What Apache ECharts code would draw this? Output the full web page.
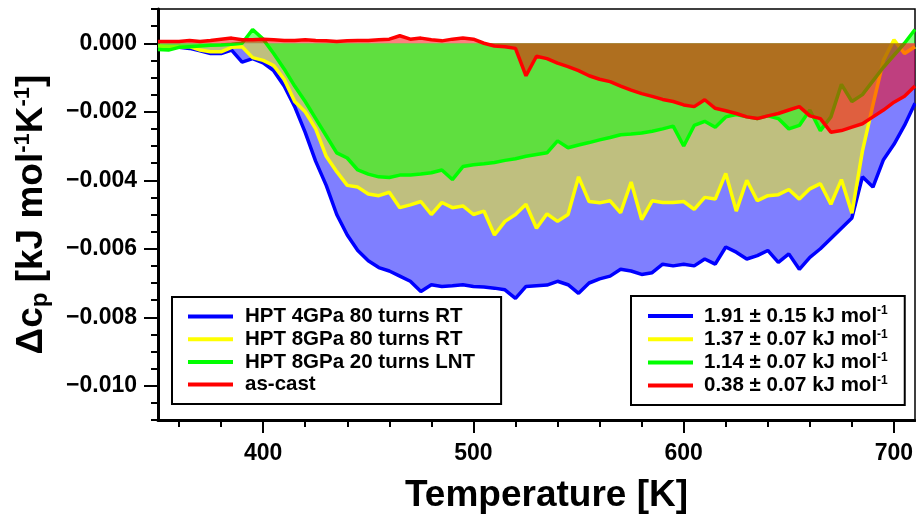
<!DOCTYPE html>
<html>
<head>
<meta charset="utf-8">
<script src="https://cdn.jsdelivr.net/npm/echarts@6/dist/echarts.min.js"></script>
<style>html,body{margin:0;padding:0;background:#fff}#chart{width:916px;height:515px}</style>
</head>
<body>
<div id="chart"></div>
<script>
// Temperature grid [K]
const temperatures = [350,355,360,365,370,375,380,385,390,395,400,405,410,415,420,425,430,435,440,445,450,455,460,465,470,475,480,485,490,495,500,505,510,515,520,525,530,535,540,545,550,555,560,565,570,575,580,585,590,595,600,605,610,615,620,625,630,635,640,645,650,655,660,665,670,675,680,685,690,695,700,705,710];

// Δcp [kJ mol-1 K-1]
const hpt4GPa80RT = [-0.00010,-0.00012,-0.00012,-0.00015,-0.00022,-0.00030,-0.00030,-0.00020,-0.00055,-0.00045,-0.00057,-0.00080,-0.00125,-0.00185,-0.00260,-0.00345,-0.00415,-0.00500,-0.00560,-0.00605,-0.00635,-0.00655,-0.00665,-0.00680,-0.00695,-0.00725,-0.00705,-0.00710,-0.00708,-0.00705,-0.00710,-0.00712,-0.00715,-0.00720,-0.00745,-0.00710,-0.00708,-0.00706,-0.00695,-0.00705,-0.00730,-0.00700,-0.00688,-0.00680,-0.00660,-0.00665,-0.00675,-0.00670,-0.00645,-0.00650,-0.00645,-0.00650,-0.00630,-0.00645,-0.00595,-0.00610,-0.00630,-0.00620,-0.00605,-0.00640,-0.00615,-0.00660,-0.00625,-0.00600,-0.00570,-0.00540,-0.00510,-0.00390,-0.00420,-0.00340,-0.00295,-0.00240,-0.00175];

const hpt8GPa80RT = [-0.00008,-0.00010,-0.00010,-0.00010,-0.00020,-0.00025,-0.00025,-0.00012,-0.00010,-0.00042,-0.00050,-0.00065,-0.00105,-0.00170,-0.00200,-0.00250,-0.00330,-0.00375,-0.00415,-0.00420,-0.00440,-0.00445,-0.00435,-0.00480,-0.00472,-0.00462,-0.00500,-0.00465,-0.00480,-0.00475,-0.00500,-0.00490,-0.00560,-0.00520,-0.00500,-0.00470,-0.00540,-0.00498,-0.00520,-0.00500,-0.00390,-0.00462,-0.00466,-0.00460,-0.00495,-0.00405,-0.00515,-0.00460,-0.00465,-0.00465,-0.00462,-0.00485,-0.00450,-0.00455,-0.00380,-0.00490,-0.00400,-0.00460,-0.00445,-0.00442,-0.00427,-0.00455,-0.00425,-0.00410,-0.00470,-0.00398,-0.00496,-0.00315,-0.00180,-0.00050,0.00010,-0.00030,-0.00010];

const hpt8GPa20LNT = [-0.00018,-0.00020,-0.00012,-0.00010,-0.00008,-0.00006,-0.00005,-0.00003,0.00000,0.00040,0.00012,-0.00030,-0.00075,-0.00125,-0.00170,-0.00220,-0.00270,-0.00320,-0.00335,-0.00370,-0.00382,-0.00390,-0.00392,-0.00385,-0.00385,-0.00382,-0.00378,-0.00370,-0.00398,-0.00360,-0.00355,-0.00352,-0.00348,-0.00342,-0.00337,-0.00330,-0.00325,-0.00320,-0.00285,-0.00305,-0.00297,-0.00290,-0.00282,-0.00275,-0.00267,-0.00265,-0.00262,-0.00257,-0.00250,-0.00242,-0.00300,-0.00240,-0.00228,-0.00245,-0.00215,-0.00208,-0.00215,-0.00220,-0.00212,-0.00220,-0.00250,-0.00240,-0.00195,-0.00255,-0.00215,-0.00120,-0.00170,-0.00150,-0.00110,-0.00070,-0.00035,0.00000,0.00040];

const asCast = [0.00005,0.00005,0.00005,0.00008,0.00005,0.00008,0.00012,0.00015,0.00010,0.00010,0.00012,0.00010,0.00008,0.00008,0.00010,0.00008,0.00007,0.00005,0.00007,0.00008,0.00008,0.00010,0.00012,0.00022,0.00012,0.00015,0.00010,0.00007,0.00012,0.00015,0.00012,0.00000,-0.00008,-0.00010,-0.00015,-0.00095,-0.00038,-0.00045,-0.00058,-0.00068,-0.00080,-0.00095,-0.00105,-0.00112,-0.00125,-0.00137,-0.00147,-0.00155,-0.00164,-0.00170,-0.00180,-0.00185,-0.00165,-0.00190,-0.00197,-0.00205,-0.00215,-0.00220,-0.00212,-0.00205,-0.00195,-0.00185,-0.00212,-0.00220,-0.00260,-0.00255,-0.00245,-0.00235,-0.00215,-0.00195,-0.00172,-0.00155,-0.00125];

const seriesNames = ['HPT 4GPa 80 turns RT','HPT 8GPa 80 turns RT','HPT 8GPa 20 turns LNT','as-cast'];
const enthalpyLabels = ['1.91 ± 0.15 kJ mol-1','1.37 ± 0.07 kJ mol-1','1.14 ± 0.07 kJ mol-1','0.38 ± 0.07 kJ mol-1'];
const seriesColors = ['#0000ff','#ffff00','#00ff00','#ff0000'];

const xMinorTicks = [360,380,400,420,440,460,480,500,520,540,560,580,600,620,640,660,680,700];
const xMajorTicks = [400,500,600,700];
const yMinorTicks = [-0.0110,-0.0105,-0.0100,-0.0095,-0.0090,-0.0085,-0.0080,-0.0075,-0.0070,-0.0065,-0.0060,-0.0055,-0.0050,-0.0045,-0.0040,-0.0035,-0.0030,-0.0025,-0.0020,-0.0015,-0.0010,-0.0005,0,0.0005,0.0010];
const yMajorTicks = [-0.010,-0.008,-0.006,-0.004,-0.002,0];

const F = '"Liberation Sans", Arial, sans-serif';
const dataSets = [hpt4GPa80RT, hpt8GPa80RT, hpt8GPa20LNT, asCast];

const series = dataSets.map((vals, i) => ({
  type: 'line',
  name: seriesNames[i],
  xAxisIndex: 0, yAxisIndex: 0,
  data: temperatures.map((t, k) => [t, vals[k]]),
  showSymbol: false,
  symbol: 'none',
  itemStyle: {color: seriesColors[i]},
  lineStyle: {color: seriesColors[i], width: 3.5},
  areaStyle: {color: seriesColors[i], opacity: 0.5, origin: 0},
  z: 2 + i
}));
enthalpyLabels.forEach((n, i) => series.push({
  type: 'line', name: n, data: [], xAxisIndex: 0, yAxisIndex: 0,
  itemStyle: {color: seriesColors[i]}, lineStyle: {color: seriesColors[i]}
}));

const yFmt = v => Math.abs(v) < 1e-9 ? '0.000' : (v < 0 ? '\u2212' : '') + Math.abs(v).toFixed(3);
const tickStyle = {color: '#000', width: 2};
const bold = {fontFamily: F, fontWeight: 'bold', color: '#000'};

const legendCommon = {
  orient: 'vertical',
  icon: 'rect',
  itemWidth: 45,
  itemHeight: 4,
  itemGap: 1.7,
  borderColor: '#000',
  borderWidth: 2,
  backgroundColor: '#fff',
  selectedMode: false,
  inactiveColor: '#000'
};

const option = {
  animation: false,
  backgroundColor: '#fff',
  textStyle: {fontFamily: F},
  grid: {left: 158, right: 1, top: 9, bottom: 95, show: true, borderColor: '#000', borderWidth: 1.5,
         backgroundColor: 'transparent', outerBoundsMode: 'none', containLabel: false},
  xAxis: [
    {type: 'value', min: 350, max: 710, position: 'bottom',
     axisLine: {onZero: false, lineStyle: {color: '#000', width: 3}},
     axisTick: {customValues: xMinorTicks, length: 7, lineStyle: tickStyle},
     axisLabel: {show: false}, splitLine: {show: false}},
    {type: 'value', min: 350, max: 710, position: 'bottom',
     axisLine: {show: false, onZero: false},
     axisTick: {customValues: xMajorTicks, length: 13, lineStyle: tickStyle},
     axisLabel: Object.assign({customValues: xMajorTicks, fontSize: 23, margin: 22}, bold),
     splitLine: {show: false},
     name: 'Temperature [K]', nameLocation: 'middle', nameGap: 57,
     nameTextStyle: Object.assign({fontSize: 37, padding: [0, 0, 0, 20]}, bold)}
  ],
  yAxis: [
    {type: 'value', min: -0.011, max: 0.001, position: 'left',
     axisLine: {onZero: false, lineStyle: {color: '#000', width: 3}},
     axisTick: {customValues: yMinorTicks, length: 7, lineStyle: tickStyle},
     axisLabel: {show: false}, splitLine: {show: false}},
    {type: 'value', min: -0.011, max: 0.001, position: 'left',
     axisLine: {show: false, onZero: false},
     axisTick: {customValues: yMajorTicks, length: 14, lineStyle: tickStyle},
     axisLabel: Object.assign({customValues: yMajorTicks, fontSize: 23, margin: 21, formatter: yFmt}, bold),
     splitLine: {show: false},
     name: '{d|\u0394c}{sub|p}{d| [kJ mol}{sup|-1}{d|K}{sup|-1}{d|]}',
     nameLocation: 'middle', nameGap: 106, nameRotate: 90,
     nameTextStyle: {rich: {
       d: Object.assign({fontSize: 37, lineHeight: 40}, bold),
       sub: Object.assign({fontSize: 24, lineHeight: 32, verticalAlign: 'bottom'}, bold),
       sup: Object.assign({fontSize: 22, lineHeight: 22, verticalAlign: 'top'}, bold)
     }}}
  ],
  legend: [
    Object.assign({}, legendCommon, {
      left: 172, top: 297,
      padding: [9, 26, 9, 16],
      data: seriesNames,
      formatter: n => '{t|' + n + '}',
      textStyle: {rich: {t: Object.assign({fontSize: 20.5, lineHeight: 22, padding: [0, 0, 0, 7]}, bold)}}
    }),
    Object.assign({}, legendCommon, {
      left: 631, top: 296,
      padding: [9, 17, 9, 17],
      data: enthalpyLabels,
      formatter: n => '{t|' + n.slice(0, -2) + '}{s|' + n.slice(-2) + '}',
      textStyle: {rich: {
        t: Object.assign({fontSize: 20.5, lineHeight: 22, padding: [0, 0, 0, 6]}, bold),
        s: Object.assign({fontSize: 12, lineHeight: 14, verticalAlign: 'top'}, bold)
      }}
    })
  ],
  series: series
};

const chart = echarts.init(document.getElementById('chart'), null, {renderer: 'canvas'});
chart.setOption(option);
</script>
</body>
</html>
